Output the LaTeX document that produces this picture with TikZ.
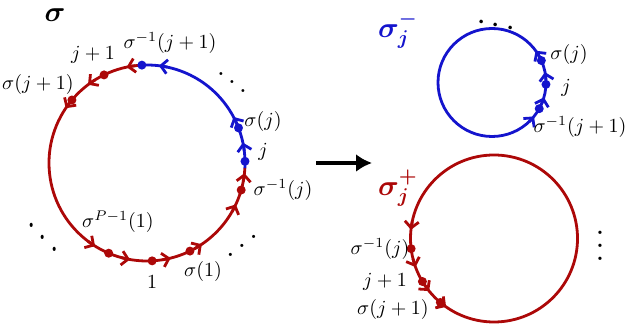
\documentclass[tikz,border=0pt]{standalone}
\usepackage{bm}
\usetikzlibrary{arrows.meta,calc}
\definecolor{cycblue}{RGB}{20,20,205}
\definecolor{cycred}{RGB}{172,8,8}

\begin{document}
\begin{tikzpicture}[x=0.5pt,y=0.5pt,>=Latex,
  loop/.style={line width=1.4pt},
  flow/.style={line width=1.4pt,-{Straight Barb[length=3.2pt,width=7pt]}}]
  \useasboundingbox (0,0) rectangle (625,325);
  \coordinate (big) at (147,162);
  \coordinate (minus) at (492,242.5);
  \coordinate (plus) at (494,86.5);

  % the cycle sigma
  \draw[loop,cycred] ($(big)+(93:98)$) arc[start angle=93,end angle=357,radius=98];
  \draw[loop,cycblue] ($(big)+(-3:98)$) arc[start angle=-3,end angle=93,radius=98];
  \foreach \a in {12,28,83}
    \draw[cycblue,flow] ($(big)+(\a-5:98)$) arc[start angle=\a-5,end angle=\a,radius=98];
  \foreach \a in {102,127,146,-122,-100,-76,-56,-25,-6}
    \draw[cycred,flow] ($(big)+(\a-5:98)$) arc[start angle=\a-5,end angle=\a,radius=98];
  \foreach \a in {1,21,93}
    \fill[cycblue] ($(big)+(\a:98)$) circle[radius=4.5];
  \foreach \a in {116,140,-16,-64,-87,-113}
    \fill[cycred] ($(big)+(\a:98)$) circle[radius=4.5];

  \node (sig) at (55,310) {\Large$\bm{\sigma}$};
  \node (l-jp1) at (93,270) {$j+1$};
  \node (l-sinvjp1) at (170,282) {$\sigma^{-1}(j+1)$};
  \node (l-sjp1) at (38,240) {$\sigma(j+1)$};
  \node (l-sj) at (263,203) {$\sigma(j)$};
  \node (l-j) at (263,173) {$j$};
  \node (l-sinvj) at (283,135) {$\sigma^{-1}(j)$};
  \node (l-sP) at (118,103) {$\sigma^{P-1}(1)$};
  \node (l-one) at (152,43) {$1$};
  \node (l-s1) at (203,53) {$\sigma(1)$};
  \node[scale=1.4] (dd-top) at (232,251) {$\ddots$};
  \node[xscale=1.5,yscale=2] (dd-left) at (43,100) {$\ddots$};
  \node[xscale=-1.5,yscale=1.5] (dd-right) at (242,88) {$\ddots$};

  % splitting arrow
  \coordinate (from) at (316,162);
  \coordinate (to) at (372,162);
  \draw[-{Latex[length=8pt,width=9pt]},line width=2pt] (from) -- (to);

  % sigma_j^-
  \draw[loop,cycblue] (minus) circle[radius=54];
  \foreach \a in {36,11,-16,-39}
    \draw[cycblue,flow] ($(minus)+(\a-8:54)$) arc[start angle=\a-8,end angle=\a,radius=54];
  \foreach \a in {24,-2,-29}
    \fill[cycblue] ($(minus)+(\a:54)$) circle[radius=4.5];
  \node[cycblue] (m-title) at (398,295) {\Large$\bm{\sigma_j^-}$};
  \node (m-sj) at (569,270) {$\sigma(j)$};
  \node (m-j) at (566,237) {$j$};
  \node[inner sep=0pt] (m-sinv) at (580,198) {$\sigma^{-1}(j+1)$};
  \node[rotate=-10,scale=1.7,inner sep=0pt] (m-dots) at (496,299) {$\cdots$};

  % sigma_j^+
  \draw[loop,cycred] (plus) circle[radius=83.5];
  \foreach \a in {174,200,219,235}
    \draw[cycred,flow] ($(plus)+(\a-6:83.5)$) arc[start angle=\a-6,end angle=\a,radius=83.5];
  \foreach \a in {187,211,230}
    \fill[cycred] ($(plus)+(\a:83.5)$) circle[radius=4.5];
  \node[cycred] (p-title) at (398,137) {\Large$\bm{\sigma_j^+}$};
  \node (p-sinvj) at (380,76) {$\sigma^{-1}(j)$};
  \node (p-jp1) at (385,43) {$j+1$};
  \node (p-sjp1) at (393,15) {$\sigma(j+1)$};
  \node[scale=1.6] (p-dots) at (600,89) {$\vdots$};
\end{tikzpicture}
\end{document}
